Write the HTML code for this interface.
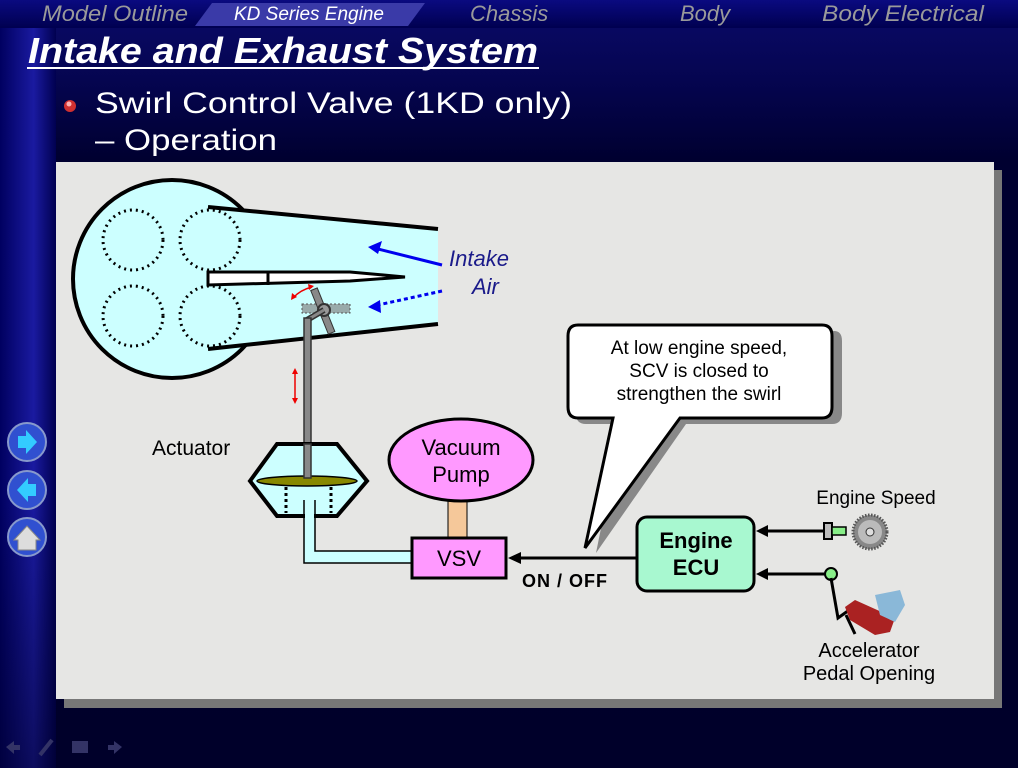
<!DOCTYPE html>
<html><head><meta charset="utf-8"><style>
html,body{margin:0;padding:0}
body{width:1018px;height:768px;overflow:hidden;background:#000033;font-family:"Liberation Sans","DejaVu Sans",sans-serif;position:relative}
.abs{position:absolute}
</style></head><body>
<div class="abs" style="left:0;top:0;width:1018px;height:768px;background:linear-gradient(180deg,#0a0a6a 0,#050550 80px,#000030 160px,#00002a 100%)"></div>
<div class="abs" style="left:0;top:0;width:56px;height:768px;background:linear-gradient(180deg,rgba(0,0,0,0) 0,rgba(0,0,0,0) 500px,rgba(0,0,30,0.5) 768px),linear-gradient(90deg,#000060 0,#1a1aa0 60%,#000050 100%)"></div>
<div class="abs" style="left:0;top:0;width:1018px;height:28px;background:linear-gradient(180deg,#0a0a80,#000050)"></div>
<svg class="abs" style="left:0;top:0" width="1018" height="768">
<polygon points="212,3 425,3 408,26 195,26" fill="#3a3aa8"/>
<g font-family="Liberation Sans,sans-serif" font-style="italic" font-size="22" fill="#9a9a9a">
<text x="42" y="21" textLength="146" lengthAdjust="spacingAndGlyphs">Model Outline</text>
<text x="470" y="21">Chassis</text>
<text x="680" y="21">Body</text>
<text x="822" y="21" textLength="162" lengthAdjust="spacingAndGlyphs">Body Electrical</text>
</g>
<text x="234" y="20" font-style="italic" font-size="19" fill="#fff">KD Series Engine</text>
<text x="28" y="63" font-style="italic" font-weight="bold" font-size="36" fill="#fff" textLength="510" lengthAdjust="spacingAndGlyphs">Intake and Exhaust System</text>
<rect x="27" y="67" width="512" height="2" fill="#fff"/>
<circle cx="70" cy="106" r="6" fill="#d03030"/><circle cx="69" cy="104" r="2.5" fill="#ffb0b0"/>
<text x="95" y="113" font-size="30" fill="#fff" textLength="477" lengthAdjust="spacingAndGlyphs">Swirl Control Valve (1KD only)</text>
<text x="95" y="150" font-size="30" fill="#fff" textLength="182" lengthAdjust="spacingAndGlyphs">– Operation</text>
<g>
<circle cx="27" cy="442" r="19" fill="#3050d0" stroke="#8899cc" stroke-width="2"/><polygon points="18,436 26,436 26,430 37,442 26,454 26,448 18,448" fill="#33ccff"/>
<circle cx="27" cy="490" r="19" fill="#3050d0" stroke="#8899cc" stroke-width="2"/><polygon points="36,484 28,484 28,478 17,490 28,502 28,496 36,496" fill="#33ccff"/>
<circle cx="27" cy="537" r="19" fill="#3050d0" stroke="#8899cc" stroke-width="2"/><polygon points="14,540 27,526 40,540 36,540 36,550 18,550 18,540" fill="#ddd" stroke="#888"/>
</g>
<g fill="#333366"><polygon points="6,747 14,741 14,745 20,745 20,750 14,750 14,754"/><rect x="72" y="741" width="16" height="12"/><polygon points="122,747 114,741 114,745 108,745 108,750 114,750 114,754"/><line x1="40" y1="755" x2="52" y2="740" stroke="#333366" stroke-width="4"/></g>
<rect x="64" y="170" width="938" height="538" fill="#777"/>
<rect x="56" y="162" width="938" height="537" fill="#e6e6e4"/>
<circle cx="172" cy="279" r="99" fill="#ccffff" stroke="#000" stroke-width="4"/>
<polygon points="208,207 438,228 438,325 208,349" fill="#ccffff"/>
<line x1="208" y1="207" x2="438" y2="229" stroke="#000" stroke-width="4"/>
<line x1="208" y1="349" x2="438" y2="324" stroke="#000" stroke-width="4"/>
<polygon points="208,272 350,272 405,277 350,281 208,285" fill="#fff" stroke="#000" stroke-width="3"/>
<line x1="268" y1="272" x2="268" y2="285" stroke="#000" stroke-width="3"/>
<g fill="none" stroke="#000" stroke-width="3" stroke-dasharray="2,4">
<circle cx="133" cy="240" r="30"/><circle cx="210" cy="240" r="30"/><circle cx="133" cy="316" r="30"/><circle cx="210" cy="316" r="30"/>
</g>
<line x1="442" y1="265" x2="378" y2="249" stroke="#0000ee" stroke-width="3"/><polygon points="368,247 382,241 378,254" fill="#0000ee"/>
<line x1="442" y1="291" x2="378" y2="305" stroke="#0000ee" stroke-width="3" stroke-dasharray="4,3"/><polygon points="368,307 380,300 381,313" fill="#0000ee"/>
<g font-style="italic" font-size="22" fill="#1a1a8a"><text x="449" y="266">Intake</text><text x="472" y="294">Air</text></g>
<rect x="302" y="304" width="48" height="9" fill="#99aaaa" stroke="#555" stroke-dasharray="2,2"/>
<rect x="319" y="287" width="7" height="47" fill="#888" stroke="#333" transform="rotate(-22 324 310)"/>
<circle cx="324" cy="310" r="6" fill="#999" stroke="#333" stroke-width="2"/>
<line x1="324" y1="310" x2="307" y2="320" stroke="#333" stroke-width="6"/><line x1="324" y1="310" x2="307" y2="320" stroke="#888" stroke-width="3"/>
<rect x="304" y="318" width="7" height="160" fill="#888" stroke="#333" stroke-width="1.5"/>
<path d="M293,298 Q300,290 312,287" fill="none" stroke="#e00" stroke-width="1.5"/><polygon points="291,300 292,293 297,297" fill="#e00"/><polygon points="314,286 308,284 309,290" fill="#e00"/>
<line x1="295" y1="372" x2="295" y2="400" stroke="#e00" stroke-width="1.5"/><polygon points="292,374 298,374 295,368" fill="#e00"/><polygon points="292,398 298,398 295,404" fill="#e00"/>
<text x="152" y="455" font-size="21" fill="#000">Actuator</text>
<path d="M304,500 V563 H412 V551 H315 V500" fill="#ccffff" stroke="#000" stroke-width="1.5"/>
<polygon points="250,481 277,444 337,444 367,481 337,516 277,516" fill="#ccffff" stroke="#000" stroke-width="4"/>
<ellipse cx="307" cy="481" rx="50" ry="5" fill="#888800" stroke="#000" stroke-width="1.5"/>
<rect x="304" y="444" width="7" height="34" fill="#888" stroke="#333" stroke-width="1.5"/>
<g fill="none" stroke="#000" stroke-width="3" stroke-dasharray="3,3"><line x1="286" y1="487" x2="286" y2="513"/><line x1="331" y1="487" x2="331" y2="513"/></g>
<path d="M304,500 V516 M315,500 V516" stroke="#000" stroke-width="1.5"/>
<rect x="305" y="512" width="9" height="8" fill="#ccffff"/>
<rect x="448" y="499" width="19" height="40" fill="#f5c89a" stroke="#000" stroke-width="1"/>
<ellipse cx="461" cy="460" rx="72" ry="41" fill="#ff99ff" stroke="#000" stroke-width="3"/>
<text x="461" y="455" text-anchor="middle" font-size="22">Vacuum</text>
<text x="461" y="482" text-anchor="middle" font-size="22">Pump</text>
<rect x="412" y="538" width="94" height="40" fill="#ff99ff" stroke="#000" stroke-width="3"/>
<text x="459" y="566" text-anchor="middle" font-size="22">VSV</text>
<line x1="637" y1="558" x2="518" y2="558" stroke="#000" stroke-width="3"/><polygon points="508,558 521,552 521,564" fill="#000"/>
<text x="522" y="587" font-weight="bold" font-size="18" letter-spacing="1">ON / OFF</text>
<path d="M580,331 H834 Q842,331 842,341 V413 Q842,424 832,424 H686 L596,553 L622,424 H586 Q576,424 576,414 V341 Q576,331 580,331Z" fill="#888"/>
<path d="M578,325 H822 Q832,325 832,336 V407 Q832,418 822,418 H680 L585,548 L613,418 H578 Q568,418 568,407 V336 Q568,325 578,325Z" fill="#fff" stroke="#000" stroke-width="3"/>
<g font-size="19" text-anchor="middle"><text x="699" y="354">At low engine speed,</text><text x="699" y="377">SCV is closed to</text><text x="699" y="400">strengthen the swirl</text></g>
<rect x="637" y="517" width="117" height="74" rx="10" fill="#a8f8d0" stroke="#000" stroke-width="3"/>
<text x="696" y="548" text-anchor="middle" font-weight="bold" font-size="22">Engine</text>
<text x="696" y="575" text-anchor="middle" font-weight="bold" font-size="22">ECU</text>
<text x="876" y="504" text-anchor="middle" font-size="19">Engine Speed</text>
<line x1="826" y1="531" x2="766" y2="531" stroke="#000" stroke-width="3"/><polygon points="756,531 768,525 768,537" fill="#000"/>
<rect x="824" y="523" width="8" height="16" fill="#bbb" stroke="#000" stroke-width="2"/><rect x="832" y="527" width="14" height="8" fill="#88ee88" stroke="#000" stroke-width="1.5"/>
<circle cx="870" cy="532" r="17" fill="#888" stroke="#555" stroke-width="3" stroke-dasharray="1.5,1.5"/><circle cx="870" cy="532" r="12" fill="#bbb"/><circle cx="870" cy="532" r="4" fill="#ddd" stroke="#333"/>
<line x1="826" y1="574" x2="766" y2="574" stroke="#000" stroke-width="3"/><polygon points="756,574 768,568 768,580" fill="#000"/>
<circle cx="831" cy="574" r="6" fill="#88ee88" stroke="#000" stroke-width="2"/>
<polyline points="831,578 838,618 852,608" fill="none" stroke="#000" stroke-width="3"/><line x1="846" y1="615" x2="855" y2="634" stroke="#000" stroke-width="3"/>
<polygon points="845,607 855,600 895,618 890,632 875,635 850,620" fill="#aa2222"/>
<polygon points="875,595 900,590 905,605 895,622 880,615" fill="#8ab8d8"/>
<g font-size="20" text-anchor="middle"><text x="869" y="657">Accelerator</text><text x="869" y="680">Pedal Opening</text></g>
</svg>
</body></html>
